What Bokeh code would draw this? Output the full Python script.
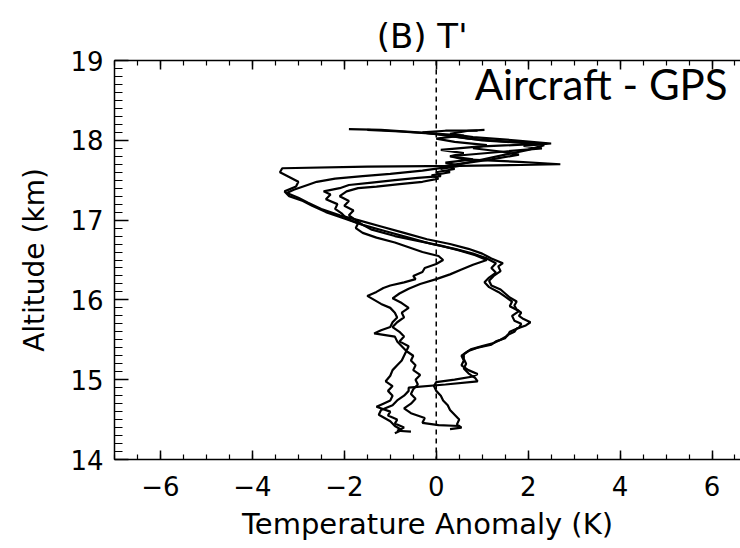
from bokeh.plotting import figure
from bokeh.models import Range1d, LinearAxis, SingleIntervalTicker, Label, Span
from bokeh.embed import file_html
from bokeh.resources import INLINE

# ---------------- data (temperature anomaly K, altitude km) ----------------
profile_a = [(-0.55,14.35),(-0.85,14.36),(-0.7,14.40),(-0.9,14.45),(-0.85,14.50),(-1.05,14.55),(-1.0,14.60),
    (-1.3,14.66),(-1.15,14.70),(-1.0,14.74),(-0.95,14.80),(-1.05,14.86),(-0.95,14.92),(-1.1,14.98),(-1.0,15.05),
    (-0.95,15.12),(-0.85,15.18),(-0.75,15.24),(-0.7,15.30),(-0.65,15.36),(-0.75,15.42),(-0.85,15.48),(-0.9,15.54),
    (-1.35,15.58),(-1.2,15.62),(-1.0,15.66),(-0.95,15.72),(-0.85,15.78),(-0.9,15.84),(-1.0,15.90),(-1.2,15.95),
    (-1.35,16.00),(-1.5,16.05),(-1.3,16.10),(-1.15,16.15),(-1.0,16.18),(-0.7,16.22),(-0.45,16.26),(-0.5,16.30),
    (-0.3,16.35),(-0.25,16.40),(0.0,16.45),(0.15,16.50),(0.05,16.55),(-0.3,16.60),(-0.6,16.66),(-0.9,16.72),
    (-1.3,16.78),(-1.6,16.84),(-1.75,16.90),(-1.7,16.96),(-1.95,17.02),(-2.05,17.08),(-2.2,17.14),(-2.15,17.20),
    (-2.4,17.26),(-2.3,17.32),(-2.45,17.36),(-2.1,17.40),(-1.9,17.44),(-1.4,17.47),(-0.9,17.50),(-0.4,17.53),
    (0.1,17.55),(0.0,17.60),(0.4,17.64),(0.2,17.68),(0.7,17.72),(1.2,17.76),(1.8,17.82),(1.4,17.86),(0.8,17.90),
    (1.1,17.94),(0.4,17.98),(0.0,18.02),(0.6,18.06),(-0.4,18.10),(-1.2,18.13),(-1.9,18.14)]

profile_b = [(0.5,14.42),(0.05,14.43),(-0.3,14.46),(-0.25,14.52),(-0.55,14.58),(-0.7,14.64),(-0.55,14.70),
    (-0.45,14.76),(-0.55,14.82),(-0.5,14.88),(-0.4,14.94),(-0.45,15.00),(-0.35,15.06),(-0.5,15.12),(-0.45,15.18),
    (-0.55,15.24),(-0.5,15.30),(-0.65,15.36),(-0.6,15.42),(-0.8,15.48),(-0.7,15.54),(-0.8,15.60),(-0.95,15.66),
    (-0.85,15.72),(-0.7,15.78),(-0.75,15.84),(-0.6,15.90),(-0.75,15.96),(-0.95,16.02),(-0.8,16.08),(-0.6,16.14),
    (-0.35,16.20),(0.0,16.26),(0.3,16.32),(0.55,16.38),(0.8,16.44),(1.1,16.50),(0.85,16.56),(0.5,16.62),
    (0.1,16.68),(-0.4,16.74),(-0.9,16.80),(-1.4,16.88),(-1.6,16.94),(-1.75,17.00),(-1.9,17.06),(-1.8,17.12),
    (-2.0,17.18),(-1.9,17.24),(-2.1,17.30),(-1.95,17.36),(-1.7,17.40),(-1.3,17.42),(-0.8,17.45),(-0.3,17.48),
    (0.05,17.52),(-0.1,17.56),(0.3,17.60),(0.1,17.64),(0.5,17.68),(0.2,17.72),(0.8,17.76),(0.3,17.80),
    (0.6,17.84),(0.1,17.88),(0.9,17.92),(2.4,17.96),(1.6,17.98),(0.7,18.02),(0.2,18.06),(-0.3,18.10),
    (0.2,18.12),(0.9,18.12)]

profile_c = [(0.3,14.38),(0.55,14.40),(0.45,14.44),(0.5,14.50),(0.4,14.56),(0.3,14.62),(0.25,14.68),(0.15,14.74),
    (0.1,14.80),(0.0,14.86),(-0.05,14.92),(0.0,14.97),(0.4,15.00),(0.8,15.04),(0.9,15.07),(0.7,15.12),(0.55,15.18),
    (0.6,15.24),(0.55,15.30),(0.7,15.36),(0.9,15.40),(1.2,15.44),(1.3,15.48),(1.5,15.52),(1.55,15.56),(1.7,15.60),
    (1.75,15.64),(1.95,15.68),(2.05,15.72),(1.9,15.76),(1.8,15.80),(1.85,15.84),(1.75,15.88),(1.7,15.93),
    (1.75,15.98),(1.6,16.03),(1.5,16.08),(1.4,16.13),(1.2,16.18),(1.15,16.24),(1.25,16.30),(1.4,16.36),
    (1.35,16.42),(1.45,16.46),(1.2,16.52),(1.0,16.58),(0.7,16.64),(0.3,16.70),(-0.2,16.76),(-0.7,16.84),
    (-1.2,16.92),(-1.7,17.00),(-2.1,17.06),(-2.5,17.14),(-2.8,17.22),(-3.0,17.28),(-3.25,17.34),(-3.1,17.38),
    (-2.8,17.44),(-2.6,17.48),(-2.2,17.52),(-1.6,17.55),(-1.0,17.58),(-0.3,17.62),(0.2,17.66),(0.5,17.70),
    (1.0,17.76),(1.5,17.82),(2.0,17.88),(2.35,17.94),(1.8,17.97),(1.0,18.00),(0.5,18.04),(0.0,18.08),
    (-0.8,18.11),(-1.5,18.13)]

profile_d = [(-0.9,14.33),(-0.75,14.37),(-0.9,14.42),(-1.0,14.48),(-1.25,14.56),(-1.2,14.62),(-0.95,14.68),
    (-0.85,14.74),(-0.7,14.80),(-0.6,14.86),(-0.6,14.90),(0.2,14.94),(0.9,14.98),(0.85,15.02),(0.7,15.08),
    (0.6,15.14),(0.65,15.20),(0.6,15.26),(0.6,15.32),(0.75,15.38),(1.0,15.42),(1.25,15.46),(1.4,15.50),
    (1.55,15.55),(1.6,15.60),(1.8,15.65),(1.85,15.70),(1.7,15.74),(1.65,15.80),(1.8,15.86),(1.6,15.92),
    (1.65,15.98),(1.5,16.04),(1.35,16.10),(1.15,16.16),(1.05,16.22),(1.15,16.28),(1.3,16.34),(1.2,16.40),
    (1.3,16.46),(1.1,16.52),(0.8,16.58),(0.4,16.64),(-0.1,16.70),(-0.6,16.78),(-1.1,16.86),(-1.6,16.94),
    (-2.0,17.02),(-2.4,17.10),(-2.7,17.18),(-2.9,17.24),(-3.2,17.30),(-3.3,17.36),(-3.05,17.42),(-3.0,17.48),
    (-3.2,17.54),(-3.4,17.60),(-3.35,17.65),(-1.5,17.67),(0.5,17.68),(2.7,17.70),(1.8,17.73),(0.6,17.76),
    (0.3,17.80),(1.5,17.86),(2.3,17.90),(1.9,17.93),(2.5,17.96),(1.7,18.00),(0.8,18.04),(0.3,18.08),
    (0.7,18.12),(1.05,18.13)]

profiles = [profile_a, profile_b, profile_c, profile_d]

x_tick_values = [-6, -4, -2, 0, 2, 4, 6]
x_tick_labels = ["\u22126", "\u22124", "\u22122", "0", "2", "4", "6"]

title_text = "(B)  T'"
inset_text = "Aircraft - GPS"
x_title = "Temperature Anomaly (K)"
y_title = "Altitude (km)"

# ---------------- figure ----------------
p = figure(width=740, height=548, output_backend="svg", toolbar_location=None,
           x_range=Range1d(-7, 6.62), y_range=Range1d(14, 19),
           x_axis_type=None, y_axis_type=None,
           min_border_left=114, min_border_right=0, min_border_top=60, min_border_bottom=89)
p.outline_line_color = None
p.background_fill_color = "white"
p.border_fill_color = "white"

FONT = "DejaVu Sans"

p.title.text = title_text
p.title.align = "center"
p.title.text_font = FONT
p.title.text_font_size = "34px"
p.title.text_font_style = "normal"
p.title.text_color = "black"
p.title.standoff = 9

def style_axis(ax, major_in, minor_in):
    ax.axis_line_color = "black"
    ax.axis_line_width = 1.5
    ax.major_tick_line_color = "black"
    ax.minor_tick_line_color = "black"
    ax.major_tick_line_width = 1.5
    ax.minor_tick_line_width = 1.2
    ax.major_tick_in = major_in
    ax.major_tick_out = 0
    ax.minor_tick_in = minor_in
    ax.minor_tick_out = 0
    ax.major_label_text_font = FONT
    ax.major_label_text_color = "black"
    ax.axis_label_text_font = FONT
    ax.axis_label_text_font_style = "normal"
    ax.axis_label_text_color = "black"

xaxis = LinearAxis(ticker=SingleIntervalTicker(interval=2, num_minor_ticks=4), axis_label=x_title)
style_axis(xaxis, 9, 5)
xaxis.major_label_overrides = {v: s for v, s in zip(x_tick_values, x_tick_labels)}
xaxis.major_label_text_font_size = "26px"
xaxis.major_label_standoff = 16
xaxis.axis_label_text_font_size = "29px"
xaxis.axis_label_standoff = 8
p.add_layout(xaxis, "below")

xtop = LinearAxis(ticker=SingleIntervalTicker(interval=2, num_minor_ticks=4))
style_axis(xtop, 9, 5)
xtop.major_label_text_color = None
xtop.major_label_text_font_size = "0px"
xtop.major_label_standoff = 0
p.add_layout(xtop, "above")

yaxis = LinearAxis(ticker=SingleIntervalTicker(interval=1, num_minor_ticks=10), axis_label=y_title)
style_axis(yaxis, 14, 8)
yaxis.major_label_text_font_size = "26px"
yaxis.major_label_standoff = 11
yaxis.axis_label_text_font_size = "28px"
yaxis.axis_label_standoff = 16
p.add_layout(yaxis, "left")

p.add_layout(Span(location=0, dimension="height", line_color="black",
                  line_width=1.5, line_dash="5 4"))

for prof in profiles:
    xs = [pt[0] for pt in prof]
    ys = [pt[1] for pt in prof]
    p.line(xs, ys, line_color="black", line_width=2.2)

p.add_layout(Label(x=6.34, y=18.70, text=inset_text, text_align="right", text_baseline="middle",
                   text_font="Lato", text_font_size="42px", text_color="black"))

open("out.html", "w").write(file_html(p, INLINE))
